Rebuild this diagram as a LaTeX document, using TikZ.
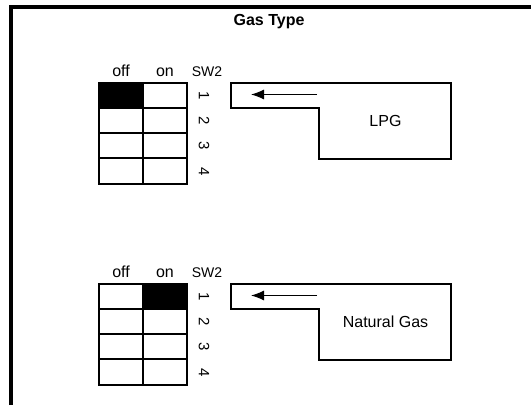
\documentclass[tikz,border=0pt]{standalone}
\usepackage{fontspec}
\setmainfont{Liberation Sans}
\usepackage{tikz}
\usetikzlibrary{arrows.meta,positioning,calc}

\tikzset{
  lbl/.style={font=\fontsize{16}{19}\selectfont, inner sep=0pt},
  swlbl/.style={font=\fontsize{14}{16}\selectfont, inner sep=0pt},
  cell/.style={draw, line width=2pt},
  plate/.style={draw, line width=2pt, line join=miter},
  pointer/.style={-{Latex[length=13pt,width=10pt]}, line width=1pt}
}

\begin{document}
\begin{tikzpicture}[x=1pt, y=-1pt]
  \useasboundingbox (0,0) rectangle (531,405);
  % frame
  \draw[line width=4pt] (11,405) -- (11,7) -- (531,7);
  \node[lbl, font=\fontsize{16}{19}\selectfont\bfseries] (title) at (269,22) {Gas Type};
  % two switch settings, one panel each
  \foreach \t/\gas/\on/\p in {82.5/LPG/0/a, 283.5/Natural Gas/1/b} {
    \fill ({98.5+44.25*\on},\t) rectangle ({142.7+44.3*\on},\t+25.3);
    \foreach \k in {0,...,3}
      \draw[cell] (98.5,\t+25.3*\k) rectangle (142.7,\t+25.3*\k+25.3)
                  (142.7,\t+25.3*\k) rectangle (187,\t+25.3*\k+25.3);
    \node[lbl, anchor=base] (off\p) at (121,\t-6) {off};
    \node[lbl, anchor=base] (on\p) at (165,\t-6) {on};
    \node[swlbl, anchor=base] (sw\p) at (207,\t-6.5) {SW2};
    \foreach \k in {1,...,4}
      \node[swlbl, font=\fontsize{15}{17}\selectfont, rotate=-90] (n\p\k) at (204,\t+12.8+25.3*\k-25.3) {\k};
    \draw[plate] (231,\t+0.5) -- (451,\t+0.5) -- (451,\t+76) -- (319,\t+76)
                 -- (319,\t+25.5) -- (231,\t+25.5) -- cycle;
    \coordinate (tail\p) at (317,\t+12);
    \coordinate (head\p) at (251,\t+12);
    \draw[pointer] (tail\p) -- (head\p);
    \node[lbl] (gas\p) at (385.5,\t+38.5) {\gas};
  }
\end{tikzpicture}
\end{document}
